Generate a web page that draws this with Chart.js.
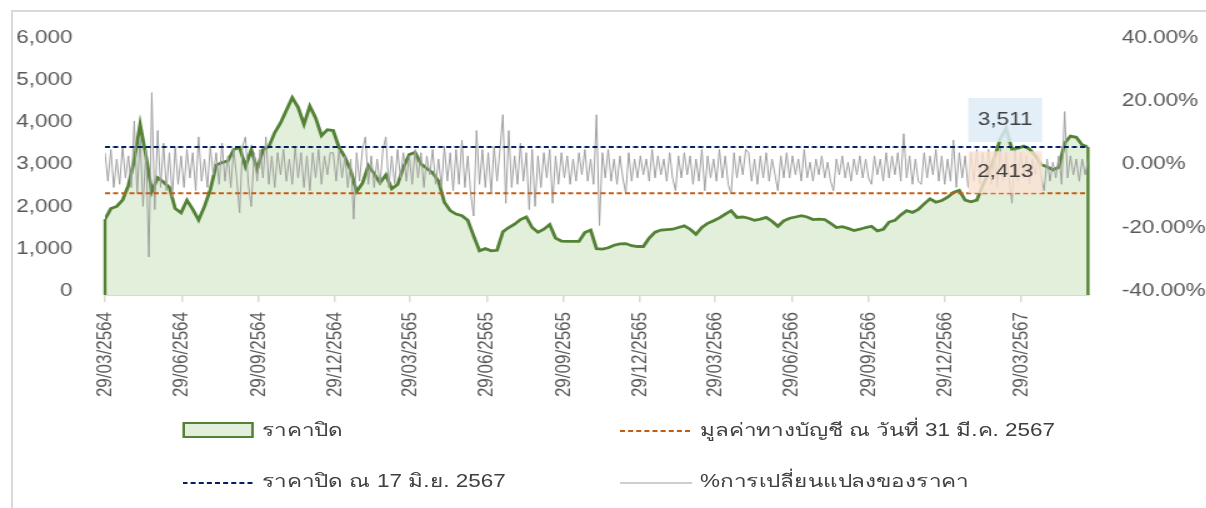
<!DOCTYPE html>
<html>
<head>
<meta charset="utf-8">
<script src="https://cdn.jsdelivr.net/npm/chart.js@4.4.1/dist/chart.umd.min.js"></script>
<style>
html, body { margin: 0; padding: 0; background: #fff; width: 1206px; height: 508px; overflow: hidden; }
#frame { position: absolute; left: 11px; top: 10px; width: 1300px; height: 600px; border: 2px solid #d9d9d9; box-sizing: border-box; }
/* the reference is stretched sideways, so draw narrow and scale x */
#stage { position: absolute; left: 0; top: 0; width: 965px; height: 508px; transform: scaleX(1.25); transform-origin: 0 0; }
.leg { position: absolute; font: 18px 'Liberation Sans', Arial, sans-serif; color: #404040; white-space: nowrap; line-height: 20px; }
.sym { position: absolute; }
</style>
</head>
<body>
<div id="frame"></div>
<div id="stage">
  <canvas id="chart"></canvas>
  <div class="sym" style="left:145.6px; top:422px; width:57px; height:16px; box-sizing:border-box; border:2px solid #548235; background:#e2efda;"></div>
  <div class="leg" style="left:209.6px; top:420px;">ราคาปิด</div>
  <svg class="sym" style="left:496px; top:426px;" width="58" height="10"><line x1="0" y1="5" x2="58" y2="5" stroke="#c55a11" stroke-width="2" stroke-dasharray="4 2.5"/></svg>
  <div class="leg" style="left:560px; top:420px;">มูลค่าทางบัญชี ณ วันที่ 31 มี.ค. 2567</div>
  <svg class="sym" style="left:145.6px; top:478px;" width="58" height="10"><line x1="0" y1="5" x2="58" y2="5" stroke="#002060" stroke-width="2" stroke-dasharray="4 2.5"/></svg>
  <div class="leg" style="left:209.6px; top:471px;">ราคาปิด ณ 17 มิ.ย. 2567</div>
  <svg class="sym" style="left:496px; top:478px;" width="58" height="10"><line x1="0" y1="5" x2="58" y2="5" stroke="#a0a0a0" stroke-width="1"/></svg>
  <div class="leg" style="left:560px; top:471px;">%การเปลี่ยนแปลงของราคา</div>
</div>
<script>
// weekly closing price from 29/03/2564 to 17/06/2567
const startDate = '29/03/2564';
const priceStepDays = 7;
const closePrice = [
    1800, 2050, 2100, 2250, 2600, 3200, 4050, 3300, 2450, 2780, 2680, 2550, 2050,
    1950, 2250, 2030, 1780, 2100, 2500, 3080, 3140, 3180, 3450, 3500, 3050, 3450,
    2980, 3440, 3520, 3850, 4080, 4380, 4680, 4450, 4050, 4480, 4200, 3780, 3920,
    3900, 3500, 3270, 2950, 2450, 2650, 3070, 2880, 2660, 2850, 2520, 2620, 3030,
    3330, 3380, 3110, 3000, 2900, 2700, 2200, 2000, 1920, 1880, 1770, 1400, 1050,
    1100, 1050, 1060, 1500, 1600, 1680, 1790, 1850, 1600, 1490, 1560, 1670, 1350,
    1280, 1270, 1270, 1270, 1480, 1540, 1100, 1090, 1120, 1180, 1210, 1220, 1170,
    1150, 1150, 1350, 1490, 1540, 1550, 1560, 1600, 1640, 1560, 1440, 1600, 1700,
    1760, 1830, 1920, 2000, 1840, 1850, 1820, 1770, 1800, 1840, 1750, 1630, 1760,
    1820, 1850, 1880, 1850, 1790, 1800, 1790, 1700, 1600, 1620, 1580, 1530, 1560,
    1600, 1630, 1520, 1560, 1730, 1770, 1900, 2000, 1960, 2030, 2160, 2280, 2200,
    2240, 2320, 2430, 2480, 2250, 2210, 2250, 2600, 2900, 3250, 3700, 3950, 3460,
    3480, 3530, 3460, 3300, 3090, 3040, 2970, 3030, 3600, 3770, 3740, 3560, 3511
];

// % price change, read twice a week
const pctStepDays = 3.5;
const pctChange = [
    5, -4, 6, -6, 3, -5, 7, -3, 4, -6, 15, -8, 10, -12, 6, -28, 24, -13, 12, -6, 8, -7, 5, -9, 7, -5,
    4, -6, 6, -3, 5, -7, 10, -4, 3, -6, 7, -2, 5, -5, 8, -4, 4, -6, 6, -3, -14, 7, 10, -5, -12, 5,
    -4, 6, -3, 10, -5, 4, -6, 5, -2, 6, -4, 3, -5, 7, -3, 5, -6, 4, -7, 5, -3, 6, -5, 4, -2, 5,
    5, -4, 6, -3, 4, -6, 3, -16, 5, -4, 6, 10, -5, 4, -6, 3, -5, 6, 10, -6, 4, -5, 6, -3, 5, -4,
    4, -5, 6, -3, 5, -6, 4, -2, 6, -5, 3, -6, 7, -4, 5, -7, 6, -5, 9, -6, 4, -8, -15, 12, -5, 6,
    -6, 5, -8, 7, -4, 6, 17, -11, 12, -6, 4, -5, 8, -4, 5, -13, 6, -12, 4, -6, 5, -3, 6, -11, 4, -5,
    5, -3, 4, -5, 3, -4, 5, -2, 6, -4, 3, -5, 17, -18, 5, -3, 6, -4, 3, -5, 4, -3, -8, 5, -4, 3,
    -3, 4, -2, 3, -4, 6, -3, 4, -2, 3, -4, 5, -3, -7, 4, -3, 5, -2, 4, -5, 3, -4, 6, -7, 4, -3,
    3, -4, 6, -3, 4, -5, -8, 5, -3, 4, -2, 6, 5, -4, 3, -5, 4, -3, 5, -4, 3, -2, -7, 4, -3, 5,
    -3, 4, -2, 3, -4, 6, -3, 2, -4, 3, -2, 4, -3, 2, -4, -7, 3, -2, 4, -3, 2, -4, 3, -2, 4, -3,
    3, -3, -5, 4, -2, 3, -4, 5, -3, 4, -2, 5, -4, 11, -3, 4, -5, 3, -4, -5, 5, -3, 4, -2, 6, -4,
    4, -5, 3, -4, 9, -6, 5, -3, 4, -6, 5, -4, 6, -5, 5, -3, 6, -5, 4, -6, 7, -4, 5, -3, -11, 6,
    -4, 5, -3, 4, -5, 3, -2, 4, -3, -7, 3, -4, 2, -3, 4, -5, 18, -3, 4, -2, 3, -4, 3, -2, 3
];

const bookValue = 2413;   // มูลค่าทางบัญชี ณ 31 มี.ค. 2567
const lastClose = 3511;   // ราคาปิด ณ 17 มิ.ย. 2567
const labelDate = '10/03/2567';

const tickLabels = ['29/03/2564', '29/06/2564', '29/09/2564', '29/12/2564', '29/03/2565', '29/06/2565',
    '29/09/2565', '29/12/2565', '29/03/2566', '29/06/2566', '29/09/2566', '29/12/2566', '29/03/2567'];

// Thai dates (Buddhist year) -> days since start
const toTime = (s) => {
    const [d, m, y] = s.split('/').map(Number);
    return Date.UTC(y - 543, m - 1, d);
};
const dayOf = (s) => (toTime(s) - toTime(startDate)) / 86400000;

const tickDays = tickLabels.map(dayOf);
const lastDay = (closePrice.length - 1) * priceStepDays;

const pricePts = closePrice.map((v, i) => ({ x: i * priceStepDays, y: v }));
const pctPts = pctChange.map((v, i) => ({ x: i * pctStepDays, y: v }));

const textColor = '#595959';
Chart.defaults.font.family = "'Liberation Sans', Arial, sans-serif";

const extras = {
    id: 'extras',
    afterDatasetDraw(chart, args) {
        if (args.index !== 0) return;
        // excel draws the area outline down both ends
        const pts = args.meta.data;
        const base = chart.scales.y.getPixelForValue(0);
        const ctx = chart.ctx;
        ctx.save();
        ctx.strokeStyle = '#548235';
        ctx.lineWidth = 2.4;
        [pts[0], pts[pts.length - 1]].forEach((p) => {
            ctx.beginPath();
            ctx.moveTo(p.x, p.y);
            ctx.lineTo(p.x, base);
            ctx.stroke();
        });
        ctx.restore();
    },
    afterDatasetsDraw(chart) {
        const ctx = chart.ctx;
        const x = chart.scales.x.getPixelForValue(dayOf(labelDate));
        const boxes = [
            [lastClose, 'rgba(221,235,247,0.85)', 49, 44],
            [bookValue, 'rgba(251,226,210,0.8)', 42, 42]
        ];
        ctx.save();
        boxes.forEach(([v, bg, up, h]) => {
            const y = chart.scales.y.getPixelForValue(v);
            ctx.fillStyle = bg;
            ctx.fillRect(x - 29.6, y - up, 59.2, h);
            ctx.fillStyle = '#404040';
            ctx.font = "18px 'Liberation Sans', Arial, sans-serif";
            ctx.textAlign = 'center';
            ctx.textBaseline = 'middle';
            ctx.fillText(v.toLocaleString('en-US'), x, y - up + h / 2);
        });
        ctx.restore();
    }
};

new Chart(document.getElementById('chart'), {
    type: 'line',
    data: {
        datasets: [
            {
                label: 'ราคาปิด',
                data: pricePts,
                borderColor: '#548235',
                backgroundColor: '#e2efda',
                borderWidth: 2.8,
                fill: 'origin',
                pointRadius: 0,
                yAxisID: 'y',
                order: 4
            },
            {
                label: '%การเปลี่ยนแปลงของราคา',
                data: pctPts,
                borderColor: '#a0a0a0',
                borderWidth: 1,
                fill: false,
                pointRadius: 0,
                yAxisID: 'y1',
                order: 3
            },
            {
                label: 'มูลค่าทางบัญชี ณ วันที่ 31 มี.ค. 2567',
                data: [{ x: 0, y: bookValue }, { x: lastDay, y: bookValue }],
                borderColor: '#c55a11',
                borderWidth: 2,
                borderDash: [4, 2.5],
                fill: false,
                pointRadius: 0,
                yAxisID: 'y',
                order: 2
            },
            {
                label: 'ราคาปิด ณ 17 มิ.ย. 2567',
                data: [{ x: 0, y: lastClose }, { x: lastDay, y: lastClose }],
                borderColor: '#002060',
                borderWidth: 2,
                borderDash: [4, 2.5],
                fill: false,
                pointRadius: 0,
                yAxisID: 'y',
                order: 1
            }
        ]
    },
    options: {
        responsive: true,
        maintainAspectRatio: false,
        animation: false,
        layout: { padding: { top: 42, bottom: 98, left: 0, right: 0 } },
        plugins: { legend: { display: false }, tooltip: { enabled: false } },
        scales: {
            x: {
                type: 'linear',
                min: 0,
                max: lastDay,
                afterBuildTicks: (s) => { s.ticks = tickDays.map((v) => ({ value: v })); },
                afterFit: (s) => { s.height = 115; },
                grid: { drawOnChartArea: false, drawTicks: true, tickLength: 7, color: '#d9d9d9', lineWidth: 1.5 },
                border: { color: '#d9d9d9', width: 2 },
                ticks: {
                    autoSkip: false,
                    maxRotation: 90,
                    minRotation: 90,
                    padding: 10,
                    color: textColor,
                    font: { size: 17 },
                    callback: (v, i) => tickLabels[i]
                }
            },
            y: {
                position: 'left',
                min: 0,
                max: 6000,
                afterFit: (s) => { s.width = 84; },
                grid: { display: false, drawTicks: false },
                border: { display: false },
                ticks: {
                    stepSize: 1000,
                    padding: 26,
                    labelOffset: -4,
                    color: textColor,
                    font: { size: 18 },
                    callback: (v) => v.toLocaleString('en-US')
                }
            },
            y1: {
                position: 'right',
                min: -40,
                max: 40,
                afterFit: (s) => { s.width = 94.6; },
                grid: { display: false, drawTicks: false },
                border: { display: false },
                ticks: {
                    stepSize: 20,
                    padding: 27,
                    labelOffset: -4,
                    color: textColor,
                    font: { size: 18 },
                    callback: (v) => v.toFixed(2) + '%'
                }
            }
        }
    },
    plugins: [extras]
});
</script>
</body>
</html>
